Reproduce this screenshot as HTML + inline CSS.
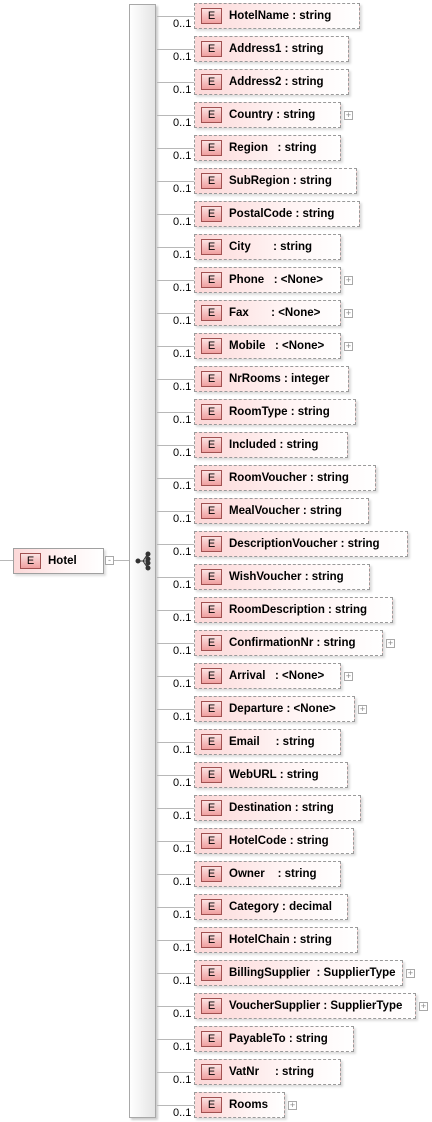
<!DOCTYPE html>
<html><head><meta charset="utf-8"><style>
body{margin:0;width:432px;height:1122px;background:#fff;position:relative;overflow:hidden;font-family:"Liberation Sans",Tahoma,sans-serif}
.bar{position:absolute;left:129px;top:4px;width:27px;height:1114px;border:1px solid #a8a8a8;background:linear-gradient(to right,#fff,#e4e4e4);box-sizing:border-box;box-shadow:2px 2px 2px #ccc}
.ln{position:absolute;height:1px;background:#b8b8b8}
.m{position:absolute;font-size:11px;color:#000;left:173px}
.b{position:absolute;left:194px;height:26px;border:1px dashed #9a9a9a;box-sizing:border-box;background:linear-gradient(to right,#fcd8d8,#fff4f4 60%,#fff);box-shadow:2px 2px 2px #ddd;font-weight:bold;font-size:11.5px;white-space:pre;line-height:24px}
.e{position:absolute;left:6px;top:4px;width:21px;height:16px;border:1px solid #a05050;box-sizing:border-box;background:linear-gradient(#fbe3e3,#f0a0a0);text-align:center;line-height:14px;font-weight:normal;font-size:11px}
.t{position:absolute;left:34px;top:0}
.p{position:absolute;width:9px;height:9px;border:1px solid #a8a8a8;box-sizing:border-box;font-size:9px;line-height:7px;text-align:center;color:#888;background:#fff}
</style></head><body>
<div class="ln" style="left:0;top:560px;width:13px"></div>
<div class="ln" style="left:114px;top:560px;width:15px"></div>
<div class="b" style="left:13px;top:548px;width:91px;border:1px solid #a0a0a0;height:26px"><div class="e">E</div><div class="t">Hotel</div></div>
<div class="p" style="left:105px;top:556px">-</div>
<div class="bar"></div>
<svg style="position:absolute;left:134px;top:550px" width="20" height="22"><g stroke="#333" fill="#333"><path d="M4 11H9M9 11L13 5M9 11H13M9 11L13 17M13 5V17" fill="none"/><circle cx="4" cy="11" r="2"/><circle cx="14" cy="4" r="2"/><circle cx="14" cy="9" r="2"/><circle cx="14" cy="13" r="2"/><circle cx="14" cy="18" r="2"/></g></svg>
<div id="rows"></div>
<script>
var d=[["HotelName : string",166],["Address1 : string",155],["Address2 : string",155],["Country : string",147,1],["Region   : string",147],["SubRegion : string",163],["PostalCode : string",166],["City       : string",147],["Phone   : <None>",147,1],["Fax       : <None>",147,1],["Mobile   : <None>",147,1],["NrRooms : integer",155],["RoomType : string",162],["Included : string",154],["RoomVoucher : string",182],["MealVoucher : string",175],["DescriptionVoucher : string",214],["WishVoucher : string",176],["RoomDescription : string",199],["ConfirmationNr : string",189,1],["Arrival   : <None>",147,1],["Departure : <None>",161,1],["Email     : string",147],["WebURL : string",154],["Destination : string",167],["HotelCode : string",160],["Owner    : string",147],["Category : decimal",154],["HotelChain : string",164],["BillingSupplier  : SupplierType",209,1],["VoucherSupplier : SupplierType",222,1],["PayableTo : string",160],["VatNr     : string",147],["Rooms",91,1]];
var h="";
d.forEach(function(r,i){var y=3+33*i;
h+='<div class="ln" style="left:157px;top:'+(y+13)+'px;width:37px"></div>';
h+='<div class="m" style="top:'+(y+15)+'px">0..1</div>';
h+='<div class="b" style="top:'+y+'px;width:'+r[1]+'px"><div class="e">E</div><div class="t">'+r[0].replace(/</g,"&lt;")+'</div></div>';
if(r[2])h+='<div class="p" style="left:'+(194+r[1]+3)+'px;top:'+(y+9)+'px">+</div>';});
document.getElementById("rows").innerHTML=h;
</script>
</body></html>
